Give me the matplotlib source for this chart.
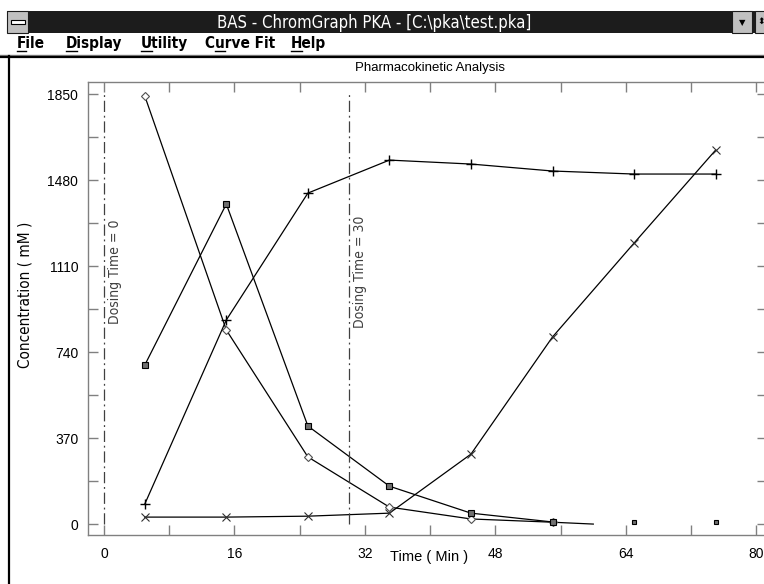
import matplotlib
matplotlib.use('Agg')
import matplotlib.pyplot as plt
import matplotlib.patches as patches

# data
time_points = [5, 15, 25, 35, 45, 55, 65, 75]
diamond_time = [5, 15, 25, 35, 45, 55, 60]
diamond_conc = [1842, 835, 289, 73, 22, 8, 0]
square_conc = [684, 1377, 422, 163, 47, 9, 9, 9]
plus_conc = [86, 878, 1424, 1566, 1549, 1519, 1506, 1506]
cross_conc = [30, 30, 34, 47, 301, 805, 1209, 1609]

dosing_times = [0, 30]
dosing_labels = ['Dosing Time = 0', 'Dosing Time = 30']

x_ticks = list(range(0, 81, 8))
x_tick_labels = [str(t) if t % 16 == 0 else '' for t in x_ticks]
y_ticks = list(range(0, 1851, 185))
y_tick_labels = [str(v) if v % 370 == 0 else '' for v in y_ticks]

menu_items = ['File', 'Display', 'Utility', 'Curve Fit', 'Help']
menu_x = [17, 66, 141, 205, 291]

SANS = ['Liberation Sans', 'DejaVu Sans']
NARROW = dict(family='DejaVu Sans', stretch='condensed')

W, H = 764, 584
fig = plt.figure(figsize=(W / 100, H / 100), dpi=100)
fig.patch.set_facecolor('white')

# window chrome, drawn in pixel coordinates (origin top-left)
chrome = fig.add_axes([0, 0, 1, 1])
chrome.set_xlim(0, W)
chrome.set_ylim(H, 0)
chrome.axis('off')

chrome.add_patch(patches.Rectangle((7, 11), W - 7, 22, facecolor='#1c1c1c', edgecolor='none'))
chrome.add_patch(patches.Rectangle((7, 11), 21, 22, facecolor='#c0c0c0', edgecolor='#1c1c1c', lw=0.8))
chrome.add_patch(patches.Rectangle((10.5, 20), 14, 4, facecolor='white', edgecolor='black', lw=0.8))
chrome.text(374, 22.5, r'BAS - ChromGraph PKA - [C:\pka\test.pka]', color='white',
            fontsize=12, ha='center', va='center', **NARROW)
chrome.add_patch(patches.Rectangle((732, 11), 20, 22, facecolor='#c0c0c0', edgecolor='#1c1c1c', lw=0.8))
chrome.text(742, 22.5, '▼', fontsize=6, ha='center', va='center', color='black')
chrome.add_patch(patches.Rectangle((755, 11), 14, 22, facecolor='#c0c0c0', edgecolor='#1c1c1c', lw=0.8))
chrome.text(757, 22.5, '⬍', fontsize=6.5, ha='left', va='center', color='black')

chrome.plot([0, W], [54.5, 54.5], color='#808080', lw=1)
chrome.plot([0, W], [56.5, 56.5], color='black', lw=1.6)
chrome.plot([8.5, 8.5], [56, H], color='black', lw=1.6)

# menu bar, with the access key underlined
renderer = fig.canvas.get_renderer()
for label, mx in zip(menu_items, menu_x):
    chrome.text(mx, 43.5, label, fontsize=11, fontweight='bold', ha='left', va='center',
                color='black', **NARROW)
    idx = 1 if label == 'Curve Fit' else 0
    t0 = chrome.text(mx, 43.5, label[:idx], fontsize=11, fontweight='bold',
                     ha='left', va='center', **NARROW)
    t1 = chrome.text(mx, 43.5, label[:idx + 1], fontsize=11, fontweight='bold',
                     ha='left', va='center', **NARROW)
    w0 = t0.get_window_extent(renderer).width if idx else 0
    w1 = t1.get_window_extent(renderer).width
    t0.remove()
    t1.remove()
    chrome.plot([mx + w0, mx + w1], [51, 51], color='black', lw=1)

chrome.text(430, 68, 'Pharmacokinetic Analysis', fontsize=9.5, family=SANS,
            ha='center', va='center')
chrome.text(429, 557, 'Time ( Min )', fontsize=10.5, family=SANS, ha='center', va='center')
chrome.text(25, 295, 'Concentration ( mM )', fontsize=11, rotation=90,
            ha='center', va='center', **NARROW)

# plot area
ax = fig.add_axes([88 / W, 1 - 535 / H, (767 - 88) / W, (535 - 82) / H])
ax.set_xlim(-1.96, 81.3)
ax.set_ylim(-47, 1902)
ax.set_facecolor('none')
for s in ax.spines.values():
    s.set_color('#808080')
    s.set_linewidth(1.0)

ax.set_xticks(x_ticks)
ax.set_xticklabels(x_tick_labels)
ax.set_yticks(y_ticks)
ax.set_yticklabels(y_tick_labels)
ax.tick_params(direction='in', length=7, width=1, color='#808080', top=True, right=True,
               labelsize=10, pad=7)
ax.tick_params(axis='x', pad=9)
for lab in ax.get_xticklabels() + ax.get_yticklabels():
    lab.set_family(SANS)

line_kw = dict(color='black', lw=0.9)
ax.plot(diamond_time, diamond_conc, marker='D', ms=4, mfc='white', mec='#505050', mew=0.8,
        markevery=list(range(6)), **line_kw)
ax.plot(time_points[:6], square_conc[:6], marker='s', ms=5, mfc='#707070', mec='black',
        mew=0.8, **line_kw)
ax.plot(time_points[6:], square_conc[6:], ls='none', marker='s', ms=3.5, mfc='#707070',
        mec='black', mew=0.8)
ax.plot(time_points, plus_conc, marker='+', ms=7, mec='black', mew=1, **line_kw)
ax.plot(time_points, cross_conc, marker='x', ms=6, mec='#303030', mew=0.8, **line_kw)

ax.vlines(dosing_times, 0, 1850, colors='#404040', linestyles=[(0, (9, 3, 1.5, 3))], lw=0.9)
for t, lab in zip(dosing_times, dosing_labels):
    ax.text(t + 1.4, 1084, lab, rotation=90, fontsize=10, color='#404040',
            ha='center', va='center', **NARROW)

fig.savefig('out.png', dpi=100)
